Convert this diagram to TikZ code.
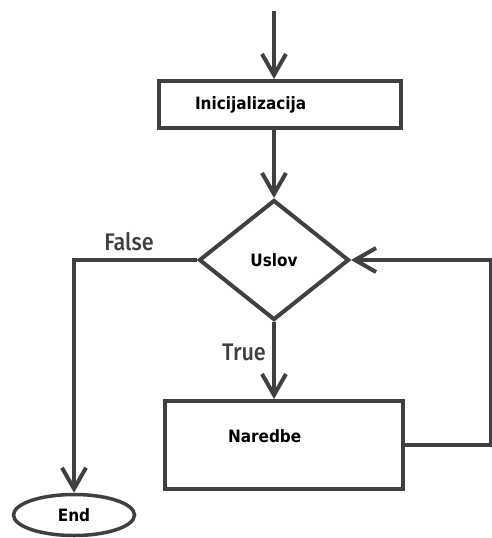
\documentclass[tikz,border=0pt]{standalone}
\usepackage{fontspec}
\setmainfont{DejaVu Sans Condensed}
\newfontfamily\oznakafont{Fira Sans}[UprightFont=* Medium, FakeStretch=0.9]
\usetikzlibrary{arrows.meta,shapes.geometric}
\definecolor{linija}{HTML}{404040}

\begin{document}
\begin{tikzpicture}[
  x=1pt, y=-1pt,
  font=\fontsize{17}{19}\selectfont\bfseries,
  blok/.style={draw=linija, line width=4pt, rectangle, align=left},
  odluka/.style={draw=linija, line width=4pt, diamond, minimum width=150pt, minimum height=120pt, inner sep=0pt},
  kraj/.style={draw=linija, line width=3.5pt, ellipse, minimum width=121pt, minimum height=41pt, inner sep=0pt},
  strelica/.style={-{Straight Barb[length=21pt, width=24pt, line width=4pt]}, draw=linija, line width=4pt},
  oznaka/.style={font=\oznakafont\fontsize{24}{26}\selectfont, text=linija}
]
\useasboundingbox (0,0) rectangle (492,538);

% Cvorovi
\node[blok, minimum height=47pt, text width=170pt, inner xsep=36pt] (init) at (280,104.5) {Inicijalizacija};
\node[odluka] (uslov) at (274,260) {Uslov};
\node[blok, minimum height=88pt, text width=112pt, inner xsep=63pt, text depth=17pt] (naredbe) at (284,445) {Naredbe};
\node[kraj] (kraj) at (74,515) {End};

% Oznake grana
\node[oznaka] (lazno) at (129,242) {False};
\node[oznaka] (tacno) at (244,352) {True};

% Veze
\coordinate (ulaz) at (274,11);
\coordinate (desno) at (491,350);
\draw[strelica] (ulaz) -- (ulaz |- init.north);
\draw[strelica] (init.south -| uslov.north) -- (uslov.north);
\draw[strelica] (uslov.south) -- (uslov.south |- naredbe.north);
\draw[strelica] (uslov.west) -| (kraj.north);
\draw[strelica] (naredbe.east) -| (desno) |- (uslov.east);
\end{tikzpicture}
\end{document}
